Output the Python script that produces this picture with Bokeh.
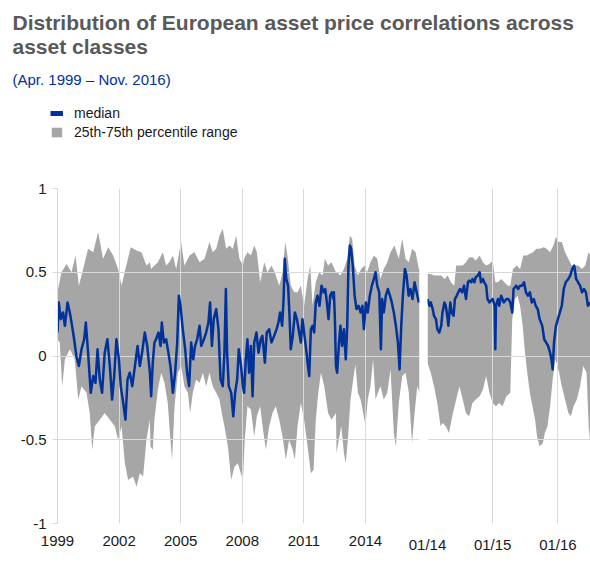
from bokeh.plotting import figure
from bokeh.layouts import column, row
from bokeh.models import Range1d, FixedTicker, Legend, LegendItem
from bokeh.core.properties import value
from bokeh.embed import file_html
from bokeh.resources import INLINE

NAN = float("nan")

# ---------------- texts ----------------
TITLE_LINES = ["Distribution of European asset price correlations across", "asset classes"]
SUBTITLE = "(Apr. 1999 \u2013 Nov. 2016)"
LEGEND_LABELS = ["median", "25th-75th percentile range"]

# ---------------- ticks ----------------
LEFT_TICKS = [1999.25, 2002.25, 2005.25, 2008.25, 2011.25, 2014.25]
LEFT_TICK_LABELS = ["1999", "2002", "2005", "2008", "2011", "2014"]
RIGHT_TICKS = [2014.0, 2015.0, 2016.0]
RIGHT_TICK_LABELS = ["01/14", "01/15", "01/16"]
Y_TICKS = [-1, -0.5, 0, 0.5, 1]
Y_TICK_LABELS = ["-1", "-0.5", "0", "0.5", "1"]

# ---------------- left panel data (fractional years) ----------------
LEFT_P75_X = [
    1999.25, 1999.44, 1999.69, 1999.93, 2000.13, 2000.29, 2000.50, 2000.74, 2000.99, 2001.23,
    2001.47, 2001.72, 2001.96, 2002.20, 2002.37, 2002.56, 2002.82, 2003.10, 2003.34, 2003.58,
    2003.75,
    2003.81, 2003.97, 2004.14, 2004.38, 2004.54, 2004.70, 2004.87, 2005.03, 2005.27, 2005.43,
    2005.68, 2005.92, 2006.17, 2006.41, 2006.65, 2006.81, 2006.98, 2007.14, 2007.30, 2007.46,
    2007.63, 2007.79, 2007.95, 2008.11, 2008.28,
    2008.34, 2008.50, 2008.67, 2008.83, 2008.96, 2009.12, 2009.32, 2009.48, 2009.67, 2009.83,
    2010.05, 2010.21, 2010.34, 2010.45, 2010.61, 2010.78, 2010.94, 2011.10, 2011.26, 2011.43,
    2011.56, 2011.67, 2011.83, 2011.99, 2012.16, 2012.27, 2012.43, 2012.59, 2012.81,
    2012.87, 2013.03, 2013.20, 2013.36, 2013.49, 2013.60, 2013.72, 2013.88, 2014.04, 2014.20,
    2014.33, 2014.49, 2014.66, 2014.82, 2014.98, 2015.14, 2015.31, 2015.47, 2015.66, 2015.87,
    2016.04, 2016.20, 2016.36, 2016.52, 2016.69, 2016.85, 2016.88]
LEFT_P75 = [
    0.38, 0.50, 0.55, 0.50, 0.60, 0.42, 0.52, 0.64, 0.62, 0.74,
    0.58, 0.65, 0.60, 0.52, 0.42, 0.52, 0.65, 0.63, 0.62, 0.54,
    0.56,
    0.52, 0.54, 0.56, 0.62, 0.54, 0.56, 0.60, 0.52, 0.68, 0.54,
    0.60, 0.62, 0.56, 0.58, 0.68, 0.62, 0.64, 0.72, 0.76, 0.64,
    0.66, 0.64, 0.72, 0.58, 0.54,
    0.58, 0.62, 0.60, 0.66, 0.62, 0.44, 0.56, 0.50, 0.54, 0.50,
    0.42, 0.50, 0.68, 0.60, 0.42, 0.38, 0.38, 0.42, 0.30, 0.46,
    0.54, 0.30, 0.44, 0.50, 0.48, 0.58, 0.54, 0.56, 0.50,
    0.50, 0.48, 0.52, 0.58, 0.72, 0.70, 0.54, 0.48, 0.52, 0.54,
    0.50, 0.56, 0.60, 0.58, 0.46, 0.52, 0.56, 0.62, 0.66, 0.58,
    0.70, 0.58, 0.56, 0.64, 0.62, 0.52, 0.52]

LEFT_P25_X = [
    1999.25, 1999.36, 1999.48, 1999.61, 1999.85, 2000.09, 2000.26, 2000.42, 2000.66, 2000.82,
    2000.94, 2001.07, 2001.31, 2001.55, 2001.80, 2002.04, 2002.20, 2002.37, 2002.53, 2002.69,
    2002.93, 2003.10, 2003.26, 2003.42, 2003.58, 2003.75,
    2003.78, 2003.89, 2003.97, 2004.14, 2004.30, 2004.46, 2004.62, 2004.75, 2004.83, 2004.95,
    2005.11, 2005.27, 2005.43, 2005.60, 2005.71, 2005.84, 2006.00, 2006.17, 2006.33, 2006.49,
    2006.65, 2006.81, 2006.98, 2007.14, 2007.25, 2007.38, 2007.55, 2007.71, 2007.87, 2008.03,
    2008.28,
    2008.37, 2008.50, 2008.67, 2008.83, 2008.96, 2009.12, 2009.28, 2009.40, 2009.56, 2009.72,
    2009.88, 2010.05, 2010.21, 2010.37, 2010.53, 2010.70, 2010.81, 2010.94, 2011.10, 2011.26,
    2011.43, 2011.59, 2011.72, 2011.83, 2011.95, 2012.08, 2012.24, 2012.43, 2012.59, 2012.81,
    2012.84, 2012.95, 2013.07, 2013.20, 2013.29, 2013.39, 2013.52, 2013.65, 2013.76, 2013.88,
    2014.01, 2014.14, 2014.25, 2014.36, 2014.49, 2014.62, 2014.74, 2014.85, 2014.98, 2015.14,
    2015.31, 2015.47, 2015.63, 2015.73, 2015.87, 2016.04, 2016.20, 2016.36, 2016.52, 2016.64,
    2016.77, 2016.88]
LEFT_P25 = [
    0.10, 0.08, -0.18, -0.02, 0.04, -0.02, -0.26, -0.18, -0.22, -0.34,
    -0.56, -0.42, -0.38, -0.34, -0.38, -0.42, -0.50, -0.42, -0.64, -0.74,
    -0.72, -0.78, -0.70, -0.72, -0.50, -0.38,
    -0.54, -0.56, -0.38, -0.20, -0.10, -0.16, -0.28, -0.50, -0.62, -0.30,
    -0.10, -0.06, -0.18, -0.22, -0.34, -0.22, -0.14, -0.16, -0.10, -0.18,
    -0.10, -0.18, -0.22, -0.26, -0.34, -0.42, -0.54, -0.74, -0.66, -0.64,
    -0.74,
    -0.50, -0.30, -0.32, -0.48, -0.36, -0.30, -0.46, -0.56, -0.42, -0.34,
    -0.30, -0.38, -0.48, -0.62, -0.50, -0.56, -0.62, -0.42, -0.28, -0.38,
    -0.54, -0.70, -0.68, -0.38, -0.22, -0.10, -0.18, -0.34, -0.38, -0.34,
    -0.58, -0.50, -0.42, -0.58, -0.64, -0.50, -0.26, -0.14, -0.05, -0.22,
    -0.26, -0.34, -0.42, -0.26, -0.18, -0.02, -0.26, -0.22, -0.18, -0.26,
    -0.22, -0.08, -0.46, -0.54, -0.28, -0.12, -0.10, -0.22, -0.52, -0.34,
    -0.18, -0.22]

LEFT_MED_X = [
    1999.25, 1999.31, 1999.41, 1999.52, 1999.61, 1999.74, 1999.85, 1999.96, 2000.06, 2000.17,
    2000.29, 2000.42, 2000.55, 2000.63, 2000.74, 2000.87, 2000.99, 2001.10, 2001.20, 2001.31,
    2001.42, 2001.55, 2001.68, 2001.80, 2001.91, 2002.01, 2002.12, 2002.24, 2002.33, 2002.45,
    2002.56, 2002.66, 2002.77, 2002.89, 2003.02, 2003.15, 2003.26, 2003.37, 2003.50, 2003.62,
    2003.75,
    2003.81, 2003.89, 2003.97, 2004.05, 2004.17, 2004.27, 2004.33, 2004.43, 2004.54, 2004.65,
    2004.75, 2004.87, 2004.98, 2005.08, 2005.16, 2005.24, 2005.35, 2005.47, 2005.56, 2005.66,
    2005.76, 2005.86, 2005.95, 2006.05, 2006.17, 2006.25, 2006.38, 2006.49, 2006.60, 2006.68,
    2006.77, 2006.86, 2006.98, 2007.09, 2007.19, 2007.30, 2007.38, 2007.45, 2007.51, 2007.59,
    2007.71, 2007.81, 2007.90, 2008.00, 2008.08, 2008.19, 2008.28,
    2008.34, 2008.42, 2008.50, 2008.58, 2008.67, 2008.75, 2008.83, 2008.94, 2009.04, 2009.15,
    2009.23, 2009.35, 2009.44, 2009.56, 2009.67, 2009.80, 2009.92, 2010.01, 2010.09, 2010.19,
    2010.26, 2010.32, 2010.39, 2010.48, 2010.55, 2010.61, 2010.71, 2010.81, 2010.91, 2011.02,
    2011.10, 2011.18, 2011.26, 2011.34, 2011.43, 2011.51, 2011.59, 2011.67, 2011.75, 2011.83,
    2011.91, 2012.01, 2012.11, 2012.21, 2012.29, 2012.37, 2012.45, 2012.53, 2012.61, 2012.69,
    2012.71, 2012.76, 2012.81, 2012.87, 2012.95, 2013.03, 2013.11, 2013.20, 2013.29, 2013.36,
    2013.42, 2013.49, 2013.55, 2013.63, 2013.72, 2013.81, 2013.91, 2014.01, 2014.10, 2014.17,
    2014.27, 2014.36, 2014.46, 2014.56, 2014.66, 2014.74, 2014.82, 2014.92, 2015.00, 2015.06,
    2015.14, 2015.24, 2015.34, 2015.44, 2015.53, 2015.63, 2015.73, 2015.83, 2015.91, 2015.99,
    2016.07, 2016.17, 2016.25, 2016.35, 2016.44, 2016.54, 2016.64, 2016.74, 2016.85]
LEFT_MED = [
    0.14, 0.32, 0.22, 0.26, 0.18, 0.32, 0.26, 0.18, 0.10, 0.00,
    -0.06, 0.04, 0.10, 0.20, 0.02, -0.22, -0.12, -0.16, 0.04, -0.14,
    -0.22, 0.02, 0.10, -0.06, -0.26, -0.12, 0.10, -0.02, -0.18, -0.28,
    -0.38, -0.14, -0.10, -0.18, -0.06, 0.06, -0.06, 0.02, 0.14, 0.06,
    -0.10,
    -0.24, -0.04, 0.08, 0.10, 0.14, 0.06, 0.20, 0.08, 0.10, 0.02,
    -0.06, -0.22, -0.10, 0.08, 0.36, 0.30, 0.16, 0.04, -0.10, -0.18,
    0.08, -0.02, 0.06, 0.10, 0.18, 0.06, 0.10, 0.14, 0.20, 0.32,
    0.06, 0.22, 0.28, 0.16, -0.14, -0.18, 0.02, 0.40, 0.02, -0.18,
    -0.22, -0.36, -0.22, -0.14, 0.04, -0.06, -0.18,
    -0.22, -0.02, 0.10, -0.10, 0.06, -0.24, 0.08, 0.14, 0.02, 0.10,
    0.12, -0.04, 0.14, 0.16, 0.08, 0.12, 0.16, 0.20, 0.26, 0.18,
    0.34, 0.58, 0.46, 0.42, 0.24, 0.04, 0.12, 0.26, 0.22, 0.14,
    0.08, 0.22, 0.14, 0.06, -0.04, -0.12, 0.16, 0.18, 0.14, 0.32,
    0.36, 0.30, 0.42, 0.38, 0.40, 0.32, 0.22, 0.36, 0.38, 0.34,
    0.38, 0.22, -0.06, -0.10, 0.06, 0.18, 0.06, 0.16, -0.02, 0.18,
    0.54, 0.66, 0.64, 0.54, 0.36, 0.28, 0.30, 0.26, 0.30, 0.16,
    0.32, 0.26, 0.36, 0.42, 0.46, 0.50, 0.42, 0.38, 0.04, 0.34,
    0.26, 0.36, 0.40, 0.36, 0.32, 0.26, 0.18, 0.08, -0.08, 0.18,
    0.36, 0.52, 0.48, 0.36, 0.40, 0.34, 0.44, 0.38, 0.32]

# ---------------- right panel data (Jan 2014 onwards) ----------------
RIGHT_P75_X = [
    2014.00, 2014.05, 2014.10, 2014.15, 2014.21, 2014.26, 2014.31, 2014.36, 2014.41, 2014.44,
    2014.49, 2014.54, 2014.59, 2014.64, 2014.69, 2014.74, 2014.80, 2014.85, 2014.90, 2014.95,
    2015.00, 2015.04, 2015.08, 2015.13, 2015.18, 2015.23, 2015.27,
    2015.31, 2015.37, 2015.42, 2015.47, 2015.52, 2015.57, 2015.62, 2015.67, 2015.72, 2015.78,
    2015.83, 2015.88, 2015.93, 2015.97, 2016.01, 2016.06, 2016.11, 2016.16, 2016.21, 2016.26,
    2016.31, 2016.37, 2016.42, 2016.47, 2016.50]
RIGHT_P75 = [
    0.49, 0.49, 0.48, 0.48, 0.48, 0.46, 0.48, 0.44, 0.42, 0.54,
    0.54, 0.54, 0.56, 0.59, 0.59, 0.57, 0.60, 0.56, 0.54, 0.55,
    0.57, 0.44, 0.44, 0.46, 0.44, 0.42, 0.42,
    0.52, 0.54, 0.52, 0.60, 0.60, 0.61, 0.62, 0.64, 0.64, 0.65,
    0.64, 0.62, 0.66, 0.71, 0.68, 0.68, 0.62, 0.58, 0.54, 0.54,
    0.54, 0.52, 0.54, 0.62, 0.60]

RIGHT_P25_X = [
    2014.00, 2014.05, 2014.10, 2014.15, 2014.20, 2014.23, 2014.28, 2014.33, 2014.39, 2014.44,
    2014.49, 2014.54, 2014.59, 2014.64, 2014.69, 2014.74, 2014.80, 2014.85, 2014.90, 2014.95,
    2015.00, 2015.05, 2015.10, 2015.15, 2015.21, 2015.27,
    2015.30, 2015.34, 2015.38, 2015.42, 2015.46, 2015.49, 2015.53, 2015.57, 2015.61, 2015.65,
    2015.68, 2015.72, 2015.77, 2015.80, 2015.84, 2015.88, 2015.92, 2015.96, 2015.98, 2016.02,
    2016.06, 2016.11, 2016.16, 2016.20, 2016.24, 2016.29, 2016.34, 2016.39, 2016.44, 2016.48,
    2016.50]
RIGHT_P25 = [
    -0.04, -0.10, -0.18, -0.28, -0.42, -0.40, -0.42, -0.46, -0.34, -0.26,
    -0.18, -0.26, -0.34, -0.36, -0.28, -0.26, -0.24, -0.20, -0.12, -0.22,
    -0.28, -0.30, -0.28, -0.30, -0.24, -0.22,
    0.22, 0.34, 0.36, 0.30, 0.18, 0.04, -0.10, -0.22, -0.30, -0.38,
    -0.48, -0.54, -0.52, -0.46, -0.42, -0.30, -0.14, -0.02, -0.04, -0.10,
    -0.18, -0.26, -0.34, -0.36, -0.30, -0.26, -0.18, -0.06, -0.10, -0.50,
    -0.38]

RIGHT_MED_X = [
    2014.00, 2014.03, 2014.05, 2014.08, 2014.10, 2014.13, 2014.15, 2014.18, 2014.21, 2014.23,
    2014.26, 2014.28, 2014.31, 2014.32, 2014.35, 2014.37, 2014.40, 2014.42, 2014.45, 2014.47,
    2014.50, 2014.53, 2014.56, 2014.59, 2014.62, 2014.64, 2014.67, 2014.69, 2014.72, 2014.74,
    2014.77, 2014.80, 2014.82, 2014.85, 2014.87, 2014.90, 2014.92, 2014.95, 2014.97, 2015.00,
    2015.03, 2015.04, 2015.05, 2015.08, 2015.10, 2015.13, 2015.17, 2015.21,
    2015.24, 2015.27, 2015.30, 2015.32, 2015.36, 2015.39, 2015.42, 2015.45, 2015.48, 2015.51,
    2015.54, 2015.57, 2015.60, 2015.63, 2015.66, 2015.69, 2015.72, 2015.76, 2015.79, 2015.82,
    2015.85, 2015.88, 2015.90, 2015.92, 2015.94, 2015.97, 2016.00, 2016.03, 2016.06, 2016.09,
    2016.12, 2016.16, 2016.19, 2016.22, 2016.25, 2016.28, 2016.31, 2016.34, 2016.37, 2016.40,
    2016.43, 2016.46, 2016.50]
RIGHT_MED = [
    0.34, 0.30, 0.32, 0.28, 0.24, 0.22, 0.16, 0.14, 0.18, 0.26,
    0.32, 0.30, 0.22, 0.18, 0.32, 0.26, 0.24, 0.34, 0.36, 0.38,
    0.40, 0.38, 0.42, 0.34, 0.44, 0.45, 0.44, 0.46, 0.44, 0.47,
    0.48, 0.50, 0.44, 0.46, 0.44, 0.42, 0.34, 0.32, 0.33, 0.34,
    0.30, 0.04, 0.30, 0.34, 0.30, 0.36, 0.32, 0.34,
    0.34, 0.32, 0.26, 0.40, 0.42, 0.40, 0.42, 0.42, 0.44, 0.38,
    0.36, 0.38, 0.32, 0.34, 0.30, 0.28, 0.22, 0.18, 0.10, 0.08,
    0.06, 0.02, -0.02, -0.08, 0.08, 0.18, 0.22, 0.26, 0.30, 0.40,
    0.44, 0.46, 0.48, 0.52, 0.54, 0.46, 0.44, 0.42, 0.38, 0.40,
    0.38, 0.30, 0.32]

# ---------------- styling ----------------
FONT = "Liberation Sans"
BLUE = "#003299"
GRAY = "#a6a6a6"
GRID = "#d9d9d9"
TITLE_COLOR = "#595959"
LABEL_COLOR = "#1a1a1a"

# ---------------- header (title, subtitle, legend) ----------------
head = figure(width=590, height=150, x_range=Range1d(0, 590), y_range=Range1d(150, 0),
              output_backend="svg", toolbar_location=None,
              x_axis_location=None, y_axis_location=None, min_border=0)
head.grid.visible = False
head.outline_line_color = None
head.text(x=[12, 12], y=[22, 46], text=TITLE_LINES, text_font=value(FONT),
          text_font_style="bold", text_font_size="21px", text_color=TITLE_COLOR,
          text_baseline="alphabetic")
head.text(x=[12], y=[79], text=[SUBTITLE], text_font=value(FONT),
          text_font_size="15px", text_color=BLUE, text_baseline="alphabetic")
leg_line = head.line(x=[NAN], y=[NAN], line_color=BLUE, line_width=5)
leg_area = head.varea(x=[NAN], y1=[NAN], y2=[NAN], fill_color=GRAY)
legend = Legend(items=[LegendItem(label=LEGEND_LABELS[0], renderers=[leg_line]),
                       LegendItem(label=LEGEND_LABELS[1], renderers=[leg_area])],
                location=(50, 10), orientation="vertical",
                label_text_font=FONT, label_text_font_size="14px", label_text_color=LABEL_COLOR,
                glyph_width=13, glyph_height=12, label_height=14, label_standoff=11,
                spacing=3, padding=0, margin=0, border_line_color=None,
                background_fill_alpha=0)
head.add_layout(legend)


def style_axes(p):
    p.outline_line_color = None
    p.background_fill_color = "white"
    p.grid.grid_line_color = GRID
    p.grid.grid_line_width = 1
    for ax in p.axis:
        ax.major_label_text_font = FONT
        ax.major_label_text_font_size = "15px"
        ax.major_label_text_color = LABEL_COLOR
        ax.minor_tick_line_color = None


# ---------------- left panel ----------------
p1 = figure(width=423, height=414, x_range=Range1d(LEFT_P75_X[0], LEFT_P75_X[-1]),
            y_range=Range1d(Y_TICKS[0], Y_TICKS[-1]),
            output_backend="svg", toolbar_location=None,
            min_border_left=57, min_border_right=4, min_border_top=38, min_border_bottom=41)
style_axes(p1)
p1.xaxis.ticker = FixedTicker(ticks=LEFT_TICKS)
p1.xaxis.major_label_overrides = dict(zip(LEFT_TICKS, LEFT_TICK_LABELS))
p1.xaxis.axis_line_color = None
p1.xaxis.major_tick_line_color = None
p1.xaxis.major_label_standoff = 6
p1.yaxis.ticker = FixedTicker(ticks=Y_TICKS)
p1.yaxis.major_label_overrides = dict(zip(Y_TICKS, Y_TICK_LABELS))
p1.yaxis.axis_line_color = GRID
p1.yaxis.major_tick_line_color = GRID
p1.yaxis.major_tick_in = 0
p1.yaxis.major_tick_out = 5
p1.yaxis.major_label_standoff = 6

p1.patch(x=LEFT_P75_X + LEFT_P25_X[::-1], y=LEFT_P75 + LEFT_P25[::-1],
         fill_color=GRAY, line_color=None, level="image")
p1.line(x=LEFT_MED_X, y=LEFT_MED, line_color=BLUE, line_width=2.5, line_join="round")

# ---------------- right panel ----------------
p2 = figure(width=187, height=414, x_range=Range1d(RIGHT_TICKS[0], RIGHT_P75_X[-1]),
            y_range=Range1d(Y_TICKS[0], Y_TICKS[-1]),
            output_backend="svg", toolbar_location=None, y_axis_location=None,
            min_border_left=24, min_border_right=0, min_border_top=38, min_border_bottom=41)
style_axes(p2)
p2.border_fill_color = None
p2.margin = (0, 0, 0, -20)
p2.xaxis.ticker = FixedTicker(ticks=RIGHT_TICKS)
p2.xaxis.major_label_overrides = dict(zip(RIGHT_TICKS, RIGHT_TICK_LABELS))
p2.xaxis.axis_line_color = None
p2.xaxis.major_tick_line_color = None
p2.xaxis.major_label_standoff = 6
p2.ygrid.ticker = FixedTicker(ticks=Y_TICKS)

p2.patch(x=RIGHT_P75_X + RIGHT_P25_X[::-1], y=RIGHT_P75 + RIGHT_P25[::-1],
         fill_color=GRAY, line_color=None, level="image")
p2.line(x=RIGHT_MED_X, y=RIGHT_MED, line_color=BLUE, line_width=2.5, line_join="round")

layout = column(head, row(p1, p2))
open("out.html", "w").write(file_html(layout, INLINE))
